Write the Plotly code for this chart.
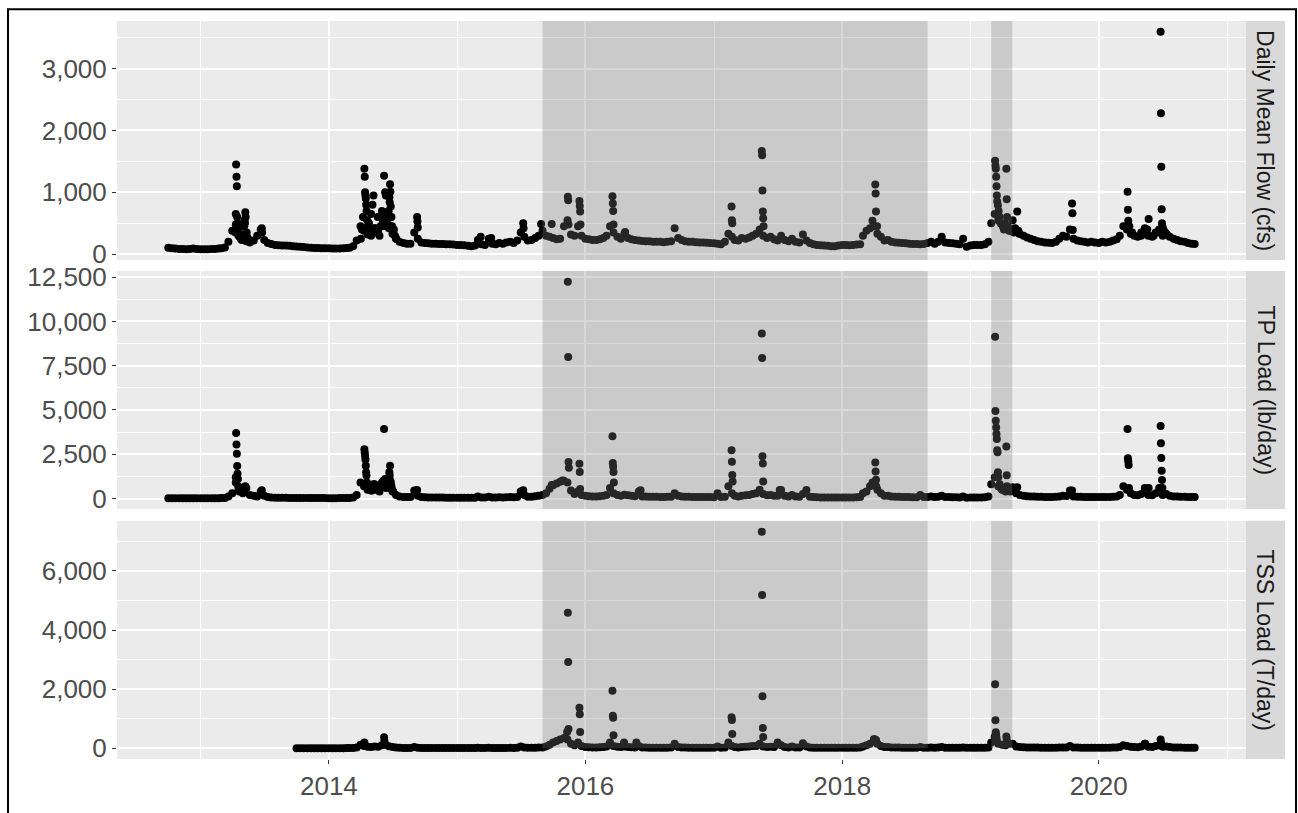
import pandas as pd
import plotly.graph_objects as go

# ---------------- data ----------------
# baseline samples: days 1, 11 and 21 of every month (water years, Oct-Sep)
flow_base = [
    # WY2013
    105, 95, 90, 85, 85, 80, 85, 90, 85, 80, 80, 80, 85, 85, 90, 95, 110, 200,
    380, 480, 330, 240, 210, 190, 220, 300, 400, 230, 180, 165, 150, 145, 140, 140, 135, 130,
    # WY2014
    125, 120, 115, 110, 105, 100, 100, 95, 95, 95, 90, 90, 90, 95, 100, 105, 130, 220,
    450, 380, 320, 300, 420, 380, 450, 520, 420, 330, 250, 200, 180, 170, 170, 350, 250, 190,
    # WY2015
    180, 175, 170, 170, 165, 165, 160, 160, 155, 150, 150, 145, 135, 130, 140, 230, 160, 150,
    250, 170, 160, 180, 170, 190, 200, 180, 220, 350, 280, 220, 230, 260, 300, 380, 300, 280,
    # WY2016
    260, 240, 250, 450, 550, 320, 300, 450, 300, 250, 240, 230, 230, 240, 260, 300, 450, 350,
    280, 250, 330, 260, 240, 230, 220, 215, 210, 210, 200, 200, 200, 195, 200, 210, 420, 260,
    # WY2017
    230, 210, 200, 200, 195, 190, 190, 185, 180, 175, 170, 160, 200, 330, 280, 230, 220, 260,
    250, 270, 300, 330, 400, 300, 260, 280, 240, 220, 300, 230, 210, 250, 200, 190, 320, 220,
    # WY2018
    180, 160, 150, 145, 140, 135, 130, 130, 140, 150, 150, 145, 150, 155, 160, 300, 380, 420,
    450, 330, 280, 220, 230, 200, 190, 185, 180, 175, 170, 165, 165, 160, 165, 180, 200, 170,
    # WY2019
    200, 280, 190, 180, 175, 170, 160, 250, 120, 140, 150, 150, 150, 160, 200, 500, 650, 550,
    480, 420, 380, 550, 380, 330, 300, 270, 250, 230, 210, 200, 190, 185, 180, 200, 250, 300,
    # WY2020
    280, 400, 250, 220, 210, 200, 190, 200, 190, 180, 200, 190, 200, 220, 240, 300, 450, 400,
    330, 300, 280, 350, 420, 300, 280, 350, 400, 300, 330, 280, 250, 230, 210, 200, 180, 170,
]

tp_base = [
    # WY2013
    20, 20, 18, 18, 18, 17, 18, 20, 18, 16, 16, 17, 18, 20, 22, 25, 35, 120,
    300, 1200, 400, 300, 600, 200, 150, 120, 400, 150, 80, 60, 45, 40, 40, 38, 35, 35,
    # WY2014
    30, 28, 27, 26, 25, 25, 24, 24, 23, 22, 22, 22, 23, 25, 28, 35, 60, 200,
    900, 700, 500, 450, 800, 600, 900, 1000, 700, 400, 200, 120, 90, 80, 80, 450, 150, 90,
    # WY2015
    70, 65, 60, 60, 55, 55, 50, 50, 48, 45, 45, 42, 40, 40, 45, 120, 60, 55,
    100, 60, 55, 70, 60, 70, 80, 70, 90, 400, 200, 100, 100, 130, 150, 200, 300, 550,
    # WY2016
    750, 850, 950, 1000, 900, 450, 250, 400, 200, 150, 130, 120, 120, 130, 150, 200, 600, 300,
    200, 150, 220, 180, 150, 130, 400, 120, 110, 100, 95, 95, 90, 90, 95, 100, 300, 150,
    # WY2017
    120, 100, 95, 90, 88, 85, 85, 80, 80, 75, 300, 80, 100, 700, 300, 150, 120, 150,
    180, 200, 250, 300, 500, 250, 180, 200, 160, 150, 480, 160, 120, 200, 110, 100, 250, 480,
    # WY2018
    100, 80, 70, 65, 60, 58, 55, 55, 60, 65, 65, 62, 65, 70, 80, 300, 400, 700,
    900, 500, 300, 150, 160, 120, 100, 95, 90, 85, 80, 75, 75, 200, 80, 90, 120, 80,
    # WY2019
    100, 150, 90, 80, 75, 70, 65, 120, 50, 60, 65, 65, 65, 70, 120, 800, 1200, 700,
    500, 400, 600, 630, 300, 200, 150, 130, 120, 110, 100, 95, 90, 88, 85, 95, 120, 150,
    # WY2020
    140, 450, 120, 100, 95, 90, 85, 90, 85, 80, 90, 85, 90, 100, 120, 200, 700, 500,
    300, 200, 180, 250, 590, 200, 180, 300, 600, 200, 250, 150, 120, 110, 100, 95, 90, 88,
]

tss_base = [
    # WY2014
    5, 5, 5, 5, 5, 5, 5, 5, 5, 4, 4, 4, 5, 5, 6, 8, 10, 30,
    120, 80, 50, 40, 60, 50, 100, 120, 70, 40, 25, 15, 10, 10, 10, 40, 20, 10,
    # WY2015
    10, 10, 10, 9, 9, 9, 8, 8, 8, 8, 8, 8, 8, 8, 8, 20, 10, 10,
    15, 10, 10, 12, 10, 12, 15, 12, 15, 60, 30, 15, 15, 20, 25, 30, 60, 120,
    # WY2016
    200, 250, 300, 350, 300, 150, 100, 200, 80, 40, 35, 30, 30, 35, 40, 60, 200, 80,
    50, 40, 60, 40, 35, 30, 80, 25, 25, 20, 20, 20, 20, 20, 20, 25, 150, 40,
    # WY2017
    30, 25, 20, 20, 20, 20, 20, 18, 18, 18, 60, 20, 25, 200, 80, 40, 30, 40,
    50, 60, 80, 80, 150, 60, 40, 50, 40, 200, 100, 40, 30, 60, 30, 25, 170, 60,
    # WY2018
    25, 20, 20, 18, 18, 18, 16, 16, 18, 18, 18, 18, 18, 20, 25, 60, 100, 150,
    310, 150, 80, 40, 40, 30, 25, 25, 22, 20, 20, 20, 20, 40, 20, 20, 30, 20,
    # WY2019
    25, 40, 22, 20, 20, 18, 18, 30, 15, 15, 16, 16, 16, 18, 30, 200, 400, 150,
    120, 100, 150, 150, 60, 40, 35, 30, 28, 25, 25, 22, 20, 20, 20, 22, 25, 30,
    # WY2020
    30, 80, 28, 25, 22, 22, 20, 22, 20, 20, 22, 20, 22, 25, 30, 40, 100, 80,
    50, 40, 35, 60, 150, 50, 40, 80, 100, 50, 60, 40, 30, 28, 25, 22, 20, 20,
]

# storm-event daily values (dates, values)
flow_evt_dates = [
    "2013-04-10", "2013-04-11", "2013-04-12", "2013-04-13", "2013-04-14", "2013-04-15",
    "2013-04-16", "2013-04-17", "2013-04-18", "2013-04-19", "2013-04-20", "2013-04-22",
    "2013-04-25", "2013-04-28", "2013-05-03", "2013-05-05", "2013-05-06", "2013-05-07",
    "2013-05-08", "2013-05-09", "2013-05-12", "2013-05-15", "2013-06-24", "2013-06-25",
    "2014-04-02", "2014-04-05", "2014-04-08", "2014-04-12", "2014-04-13", "2014-04-14",
    "2014-04-15", "2014-04-16", "2014-04-17", "2014-04-18", "2014-04-20", "2014-04-22",
    "2014-04-25", "2014-04-28", "2014-05-01", "2014-05-03", "2014-05-05", "2014-05-08",
    "2014-05-12", "2014-05-15", "2014-05-20", "2014-05-25", "2014-05-28", "2014-06-01",
    "2014-06-03", "2014-06-05", "2014-06-07", "2014-06-09", "2014-06-10", "2014-06-12",
    "2014-06-13", "2014-06-15", "2014-06-17", "2014-06-18", "2014-06-20", "2014-06-22",
    "2014-06-23", "2014-06-24", "2014-06-25", "2014-06-26", "2014-06-28", "2014-06-30",
    "2014-07-03", "2014-07-05", "2014-07-08", "2014-07-12",
    "2014-09-09", "2014-09-10", "2014-09-11",
    "2015-03-09", "2015-04-08", "2015-07-08", "2015-07-09", "2015-08-28", "2015-09-27",
    "2015-11-12", "2015-11-13", "2015-11-14", "2015-12-15", "2015-12-16", "2015-12-17", "2015-12-18",
    "2016-03-18", "2016-03-19", "2016-03-20", "2016-03-21", "2016-04-23",
    "2017-02-20", "2017-02-21", "2017-02-22", "2017-05-17", "2017-05-18", "2017-05-19",
    "2017-05-20", "2017-05-21", "2017-05-22",
    "2018-03-28", "2018-04-05", "2018-04-06", "2018-04-07", "2018-04-10",
    "2019-03-12", "2019-03-13", "2019-03-14", "2019-03-15", "2019-03-16", "2019-03-17",
    "2019-03-18", "2019-03-20", "2019-03-22", "2019-03-25", "2019-03-28", "2019-04-03",
    "2019-04-06", "2019-04-09", "2019-04-13", "2019-04-14", "2019-04-15", "2019-04-17",
    "2019-04-20", "2019-04-24", "2019-04-27", "2019-05-04", "2019-05-08", "2019-05-14",
    "2019-05-17", "2019-05-20",
    "2019-10-17", "2019-10-18", "2019-10-19",
    "2020-03-23", "2020-03-24", "2020-03-25", "2020-03-28", "2020-04-05", "2020-05-01",
    "2020-05-18", "2020-05-22", "2020-06-05", "2020-06-15",
    "2020-06-25", "2020-06-26", "2020-06-27", "2020-06-28", "2020-06-29", "2020-06-30",
    "2020-07-03", "2020-07-08", "2020-07-13",
    "2020-09-30",
]
flow_evt_vals = [
    350, 650, 1450, 1250, 1100, 600, 500, 420, 380, 300, 350, 280,
    250, 230, 300, 450, 550, 500,
    680, 600, 350, 260, 420, 350,
    250, 400, 600, 1380, 1250, 1000,
    950, 900, 800, 700, 550, 450,
    500, 380, 650, 350, 800, 950,
    420, 350, 600, 300, 450, 700,
    500, 600, 1270, 550, 1000, 950,
    450, 650, 500, 600, 700, 920,
    840, 1130, 1010, 770, 600, 450,
    380, 400, 300, 250,
    600, 530, 430,
    280, 260, 500, 420, 490, 490,
    930, 870, 480, 860, 780, 690, 480,
    935, 820, 700, 480, 360,
    770, 550, 500, 1670, 1600, 1030, 690, 580, 450,
    540, 1126, 980, 690, 450,
    1510, 1430, 1380, 1250, 1100, 950,
    850, 790, 700, 600, 500, 450,
    400, 500, 1380, 890, 600, 450,
    400, 380, 400, 350, 420, 690,
    380, 330,
    820, 660, 390,
    1010, 720, 540, 450, 350, 300,
    400, 570, 300, 350,
    3594, 2280, 1413, 727, 500, 450,
    400, 350, 320,
    165,
]

tp_evt_dates = [
    "2013-04-11", "2013-04-12", "2013-04-13", "2013-04-14", "2013-04-15", "2013-04-16",
    "2013-04-17", "2013-04-18", "2013-04-19", "2013-05-06", "2013-05-08", "2013-06-24",
    "2014-04-12", "2014-04-13", "2014-04-14", "2014-04-15", "2014-04-16", "2014-04-17",
    "2014-04-18", "2014-04-19", "2014-04-22", "2014-04-28", "2014-05-03", "2014-05-08",
    "2014-05-12", "2014-05-15", "2014-05-25", "2014-05-28", "2014-06-03", "2014-06-05",
    "2014-06-07", "2014-06-09", "2014-06-10", "2014-06-13", "2014-06-17", "2014-06-22",
    "2014-06-23", "2014-06-24", "2014-06-25", "2014-06-26", "2014-06-28", "2014-06-30",
    "2014-07-03", "2014-09-09",
    "2015-07-08", "2015-09-27", "2015-10-28",
    "2015-11-12", "2015-11-13", "2015-11-14", "2015-11-15", "2015-12-15", "2015-12-16", "2015-12-17",
    "2016-03-18", "2016-03-19", "2016-03-20", "2016-03-21", "2016-03-22", "2016-06-06",
    "2017-02-20", "2017-02-21", "2017-02-22", "2017-02-23",
    "2017-05-17", "2017-05-18", "2017-05-19", "2017-05-20", "2017-05-21", "2017-07-07",
    "2018-03-28", "2018-04-05", "2018-04-06", "2018-04-07", "2018-04-08",
    "2019-03-12", "2019-03-13", "2019-03-14", "2019-03-15", "2019-03-16", "2019-03-17",
    "2019-03-18", "2019-03-19", "2019-03-20", "2019-03-21", "2019-03-25", "2019-03-28",
    "2019-04-03", "2019-04-09", "2019-04-13", "2019-04-14", "2019-04-15", "2019-04-17",
    "2019-04-24", "2019-05-14", "2019-10-17",
    "2020-03-23", "2020-03-24", "2020-03-25", "2020-03-26", "2020-03-27", "2020-05-22",
    "2020-06-25", "2020-06-26", "2020-06-27", "2020-06-28", "2020-06-29", "2020-06-30",
    "2020-09-30",
]
tp_evt_vals = [
    900, 3700, 3050, 2530, 1830, 1400, 1100, 700, 500, 500, 700, 470,
    2780, 2600, 2400, 2200, 1850, 1480, 1300, 900, 700, 500, 450, 800,
    600, 500, 400, 700, 800, 1000, 3920, 700, 1100, 600, 800, 1480,
    1300, 1850, 1000, 900, 700, 500, 400, 480,
    470, 760, 1020,
    12240, 7990, 2060, 1740, 1960, 1500, 540,
    3510, 2000, 1800, 1500, 900, 470,
    2720, 2070, 1330, 960,
    9320, 7935, 2385, 1980, 960, 480,
    900, 2030, 1520, 1060, 680,
    9140, 4940, 4385, 4010, 3640, 3365,
    2720, 2610, 1480, 1200, 800, 600,
    500, 600, 2940, 1310, 700, 500,
    400, 630, 450,
    3920, 2270, 2100, 1900, 600, 590,
    4100, 3120, 2290, 1570, 1050, 600,
    88,
]

tss_evt_dates = [
    "2014-04-12", "2014-06-07", "2014-06-08",
    "2015-11-10", "2015-11-12", "2015-11-13", "2015-11-14",
    "2015-12-15", "2015-12-16", "2015-12-17",
    "2016-03-18", "2016-03-19", "2016-03-20", "2016-03-21", "2016-04-20", "2016-05-25",
    "2017-02-20", "2017-02-21", "2017-02-22",
    "2017-05-17", "2017-05-18", "2017-05-19", "2017-05-20", "2017-05-21",
    "2018-04-03", "2018-04-07",
    "2019-03-12", "2019-03-13", "2019-03-14", "2019-03-15", "2019-03-16", "2019-03-17",
    "2019-04-13", "2019-04-14",
    "2020-05-12", "2020-06-25", "2020-06-26",
    "2020-09-30",
]
tss_evt_vals = [
    200, 375, 250,
    550, 4580, 2920, 650,
    1370, 1150, 550,
    1950, 1100, 1030, 440, 200, 200,
    1050, 960, 480,
    7325, 5180, 1760, 685, 380,
    310, 280,
    2170, 950, 540, 450, 350, 250,
    400, 300,
    150, 300, 200,
    20,
]

shade_start = ["2015-09-01", "2019-03-01"]
shade_end = ["2018-09-01", "2019-04-30"]

panel_labels = ["Daily Mean Flow (cfs)", "TP Load (lb/day)", "TSS Load (T/day)"]
y_ticks = [[0, 1000, 2000, 3000],
           [0, 2500, 5000, 7500, 10000, 12500],
           [0, 2000, 4000, 6000]]
y_minor = [[500, 1500, 2500, 3500],
           [1250, 3750, 6250, 8750, 11250],
           [1000, 3000, 5000, 7000]]
x_tick_years = [2014, 2016, 2018, 2020]
x_minor_years = [2013, 2015, 2017, 2019, 2021]


# ---------------- helpers ----------------
def sample_dates(start, end):
    months = pd.date_range(start, end, freq="MS")
    return [m + pd.Timedelta(days=d) for m in months for d in (0, 10, 20)]


flow_dates = sample_dates("2012-10-01", "2020-09-01") + list(pd.to_datetime(flow_evt_dates))
flow_vals = flow_base + flow_evt_vals
tp_dates = sample_dates("2012-10-01", "2020-09-01") + list(pd.to_datetime(tp_evt_dates))
tp_vals = tp_base + tp_evt_vals
tss_dates = sample_dates("2013-10-01", "2020-09-01") + list(pd.to_datetime(tss_evt_dates))
tss_vals = tss_base + tss_evt_vals

series = [(flow_dates, flow_vals), (tp_dates, tp_vals), (tss_dates, tss_vals)]


def expand(lo, hi, f=0.05):
    pad = (hi - lo) * f
    return lo - pad, hi + pad


all_dates = flow_dates + tp_dates + tss_dates
dmin, dmax = min(all_dates), max(all_dates)
span = dmax - dmin
x_range = [dmin - span * 0.05, dmax + span * 0.05]

# ---------------- geometry (pixels) ----------------
W, H = 1298, 813
ML, MR, MT, MB = 117, 12, 18, 45
PW, PH = W - ML - MR, H - MT - MB
panel_right = 1246
strip_left, strip_right = 1246, 1285
panels_px = [(18, 261), (272, 514), (526, 768)]  # top, bottom


def px_x(px):
    return (px - ML) / PW


def px_y(py):
    return (H - MB - py) / PH


fig = go.Figure()
PANEL_BG = "#EBEBEB"
FONT = "Liberation Sans, Arial, sans-serif"

for i, (d, v) in enumerate(series):
    n = "" if i == 0 else str(i + 1)
    fig.add_trace(go.Scatter(
        x=d, y=v, mode="markers", xaxis="x" + n, yaxis="y" + n,
        marker=dict(color="black", size=8, line=dict(width=0)),
        showlegend=False, hoverinfo="x+y",
    ))
    lo, hi = expand(min(v), max(v))
    top, bot = panels_px[i]
    fig.layout["yaxis" + n] = dict(
        domain=[px_y(bot), px_y(top)], range=[lo, hi], anchor="x" + n,
        tickmode="array", tickvals=y_ticks[i],
        ticktext=[f"{t:,}" for t in y_ticks[i]],
        showgrid=True, gridcolor="white", gridwidth=1.8, zeroline=False,
        minor=dict(tickmode="array", tickvals=y_minor[i], showgrid=True,
                   gridcolor="white", gridwidth=0.9, ticks=""),
        ticks="outside", ticklen=4, tickwidth=1.3, tickcolor="#333333",
        tickfont=dict(family=FONT, size=26, color="#4D4D4D"),
        showline=False, fixedrange=True,
    )
    fig.layout["xaxis" + n] = dict(
        domain=[0, px_x(panel_right)], range=x_range, anchor="y" + n,
        type="date",
        tickmode="array",
        tickvals=[pd.Timestamp(f"{y}-01-01") for y in x_tick_years],
        ticktext=[str(y) for y in x_tick_years],
        showgrid=True, gridcolor="white", gridwidth=1.8, zeroline=False,
        minor=dict(tickmode="array",
                   tickvals=[pd.Timestamp(f"{y}-01-01") for y in x_minor_years],
                   showgrid=True, gridcolor="white", gridwidth=0.9, ticks=""),
        ticks="outside" if i == 2 else "", ticklen=4, tickwidth=1.3, tickcolor="#333333",
        showticklabels=(i == 2),
        tickfont=dict(family=FONT, size=26, color="#4D4D4D"),
        showline=False, fixedrange=True,
    )
    if i > 0:
        fig.layout["xaxis" + n]["matches"] = "x"

    # shaded periods
    for s, e in zip(shade_start, shade_end):
        if i < 2:
            fig.add_shape(type="rect", xref="x" + n, yref=f"y{n} domain",
                          x0=s, x1=e, y0=0, y1=1, layer="above",
                          fillcolor="rgba(127,127,127,0.3)", line=dict(width=0))
        else:
            fig.add_shape(type="rect", xref="x" + n, yref="y" + n,
                          x0=s, x1=e, y0=0, y1=hi, layer="above",
                          fillcolor="rgba(127,127,127,0.3)", line=dict(width=0))

    # facet strip
    fig.add_shape(type="rect", xref="paper", yref="paper",
                  x0=px_x(strip_left), x1=px_x(strip_right),
                  y0=px_y(bot), y1=px_y(top), layer="below",
                  fillcolor="#D9D9D9", line=dict(width=0))
    fig.add_annotation(xref="paper", yref="paper",
                       x=px_x((strip_left + strip_right) / 2), y=px_y((top + bot) / 2),
                       text=panel_labels[i], textangle=90, showarrow=False,
                       font=dict(family=FONT, size=23, color="#1A1A1A"),
                       xanchor="center", yanchor="middle")

# outer frame
fig.add_shape(type="rect", xref="paper", yref="paper",
              x0=px_x(8), x1=px_x(1296), y0=px_y(830), y1=px_y(6),
              line=dict(color="black", width=2), fillcolor="rgba(0,0,0,0)", layer="above")

fig.update_layout(
    width=W, height=H,
    margin=dict(l=ML, r=MR, t=MT, b=MB, pad=0),
    paper_bgcolor="white", plot_bgcolor=PANEL_BG,
    showlegend=False,
)

fig.write_html("out.html", config={"displayModeBar": False})
